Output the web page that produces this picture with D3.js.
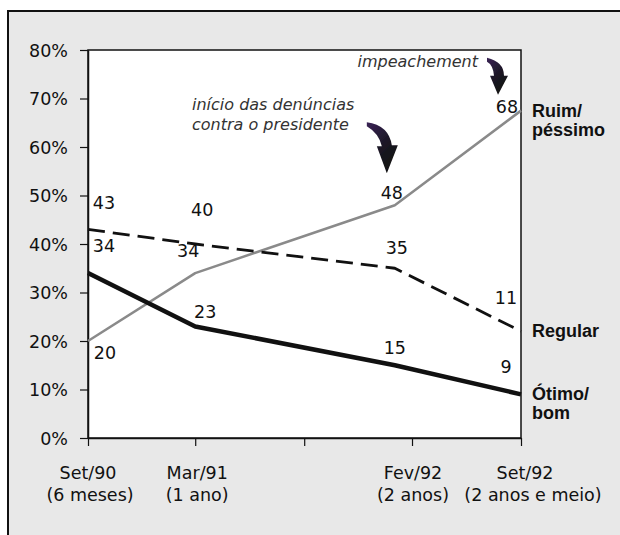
<!DOCTYPE html>
<html>
<head>
<meta charset="utf-8">
<script src="https://cdn.jsdelivr.net/npm/d3@7"></script>
<style>
  body { margin: 0; background: #fff; }
  svg { display: block; }
</style>
</head>
<body>
<svg id="chart" width="620" height="535"></svg>
<script>
// survey dates (time scale)
const dates = ["1990-09-01", "1991-03-01", "1992-02-01", "1992-09-01"]
// series values (%)
const ruim = [20, 34, 48, 67.5]
const regular = [43, 40, 35, 22]
const otimo = [34, 23, 15, 9]
// printed labels, as in the picture
const ruimLabels = ["20", "34", "48", "68"]
const regularLabels = ["43", "40", "35", "11"]
const otimoLabels = ["34", "23", "15", "9"]
const seriesNames = [["Ruim/", "péssimo"], ["Regular"], ["Ótimo/", "bom"]]
// axis
const yTicks = [0, 10, 20, 30, 40, 50, 60, 70, 80]
const xTickDates = ["1990-09-01", "1991-03-01", "1991-09-01", "1992-03-01", "1992-09-01"]
const xLabelDates = ["1990-09-01", "1991-03-01", "1992-03-01", "1992-09-01"]
const xLabels = [["Set/90", "(6 meses)"], ["Mar/91", "(1 ano)"], ["Fev/92", "(2 anos)"], ["Set/92", "(2 anos e meio)"]]

const parse = d3.timeParse("%Y-%m-%d")
const svg = d3.select("#chart")

//outer panel
svg.append("rect").attr("x", 8).attr("y", 11).attr("width", 640).attr("height", 560)
  .attr("fill", "#e8e8e8").attr("stroke", "#111").attr("stroke-width", 2)

let m = {l: 88, t: 50, r: 521, b: 438}
let x = d3.scaleTime().domain([parse("1990-09-01"), parse("1992-09-01")]).range([m.l, m.r])
let y = d3.scaleLinear().domain([0, 80]).range([m.b, m.t])

//plot area
svg.append("rect").attr("x", m.l).attr("y", m.t).attr("width", m.r - m.l).attr("height", m.b - m.t)
  .attr("fill", "#fff").attr("stroke", "#111").attr("stroke-width", 1.5)

//y axis
let yAxis = svg.append("g").attr("transform", `translate(${m.l},0)`)
  .call(d3.axisLeft(y).tickValues(yTicks).tickFormat(d => d + "%").tickSize(8).tickSizeOuter(0).tickPadding(12))
yAxis.select(".domain").attr("stroke", "#111").attr("stroke-width", 1.5)
yAxis.selectAll(".tick line").attr("stroke", "#111").attr("stroke-width", 1.2)
yAxis.selectAll(".tick text").attr("font-family", "DejaVu Sans").attr("font-size", 17.5).attr("fill", "#111").attr("dy", "0.36em")

//x axis
let xAxis = svg.append("g").attr("transform", `translate(0,${m.b})`)
  .call(d3.axisBottom(x).tickValues(xTickDates.map(parse)).tickFormat("").tickSize(8).tickSizeOuter(0))
xAxis.select(".domain").attr("stroke", "#111").attr("stroke-width", 1.5)
xAxis.selectAll(".tick line").attr("stroke", "#111").attr("stroke-width", 1.2)

//x labels, last one nudged right like the original
let xShift = [0, 2, 1, 12]
let xl = svg.append("g").attr("font-family", "DejaVu Sans").attr("font-size", 17.5).attr("fill", "#111").attr("text-anchor", "middle")
xLabelDates.forEach((d, i) => {
  let t = xl.append("text").attr("x", x(parse(d)) + xShift[i]).attr("y", 479)
  t.append("tspan").attr("x", x(parse(d)) + xShift[i] - (i == 3 ? 8 : 0)).text(xLabels[i][0])
  t.append("tspan").attr("x", x(parse(d)) + xShift[i] + (i == 0 ? 2 : 0)).attr("dy", 22).text(xLabels[i][1])
})

//series
let series = [
  {v: ruim, lab: ruimLabels, color: "#8a8a8a", w: 2.5, dash: null,
    off: [[17, 18], [-7, -16], [-3, -6], [-14, 2]]},
  {v: regular, lab: regularLabels, color: "#111", w: 2.8, dash: "17,8",
    off: [[16, -20], [7, -28], [2, -14], [-15, -27]]},
  {v: otimo, lab: otimoLabels, color: "#111", w: 4.5, dash: null,
    off: [[16, -21], [10, -8], [0, -11], [-15, -21]]}
]

let line = d3.line().x((d, i) => x(parse(dates[i]))).y(d => y(d))

series.forEach((s, k) => {
  svg.append("path").datum(s.v).attr("d", line).attr("fill", "none")
    .attr("stroke", s.color).attr("stroke-width", s.w).attr("stroke-dasharray", s.dash)
    .attr("stroke-linejoin", "round")

  svg.append("g").selectAll("text").data(s.v).enter().append("text")
    .attr("x", (d, i) => x(parse(dates[i])) + s.off[i][0])
    .attr("y", (d, i) => y(d) + s.off[i][1])
    .attr("text-anchor", "middle").attr("font-family", "DejaVu Sans").attr("font-size", 17.5).attr("fill", "#111")
    .text((d, i) => s.lab[i])

  //series name at right
  let last = s.v[s.v.length - 1]
  let nt = svg.append("text").attr("x", 532).attr("y", y(last) + 6)
    .attr("font-family", "Liberation Sans").attr("font-weight", "bold").attr("font-size", 18).attr("fill", "#111")
  seriesNames[k].forEach((n, j) => nt.append("tspan").attr("x", 532).attr("dy", j ? 19 : 0).text(n))
})

//annotations
let ann = svg.append("g").attr("font-family", "DejaVu Sans").attr("font-style", "italic").attr("font-size", 16).attr("fill", "#333")
ann.append("text").attr("x", 478).attr("y", 67).attr("text-anchor", "end").text("impeachement")
ann.append("text").attr("x", 192).attr("y", 110).text("início das denúncias")
ann.append("text").attr("x", 192).attr("y", 130).text("contra o presidente")

//curved arrows, drawn relative to their tip
let defs = svg.append("defs")
let grad = defs.append("linearGradient").attr("id", "arrowGrad").attr("x1", 0).attr("y1", 0).attr("x2", 0.6).attr("y2", 1)
grad.append("stop").attr("offset", "0%").attr("stop-color", "#3a2256")
grad.append("stop").attr("offset", "55%").attr("stop-color", "#1c1826")
grad.append("stop").attr("offset", "100%").attr("stop-color", "#111")
defs.append("filter").attr("id", "soft").append("feGaussianBlur").attr("stdDeviation", 0.6)

let bigArrow = "M-20,-51 Q2,-48 5,-28 L11,-28 L0,0 L-10,-27 L-5,-27 Q-8,-40 -20,-47 Z"
let smallArrow = "M-11,-37 Q6,-33 6,-19 L10,-19 L0,0 L-8,-19 L-4,-19 Q-5,-30 -11,-33 Z"
svg.append("path").attr("d", bigArrow).attr("fill", "url(#arrowGrad)").attr("filter", "url(#soft)")
  .attr("transform", `translate(${x(parse(dates[2])) - 8},${y(ruim[2]) - 32})`)
svg.append("path").attr("d", smallArrow).attr("fill", "url(#arrowGrad)").attr("filter", "url(#soft)")
  .attr("transform", `translate(${x(parse(dates[3])) - 23},${y(ruim[3]) - 16})`)
</script>
</body>
</html>
